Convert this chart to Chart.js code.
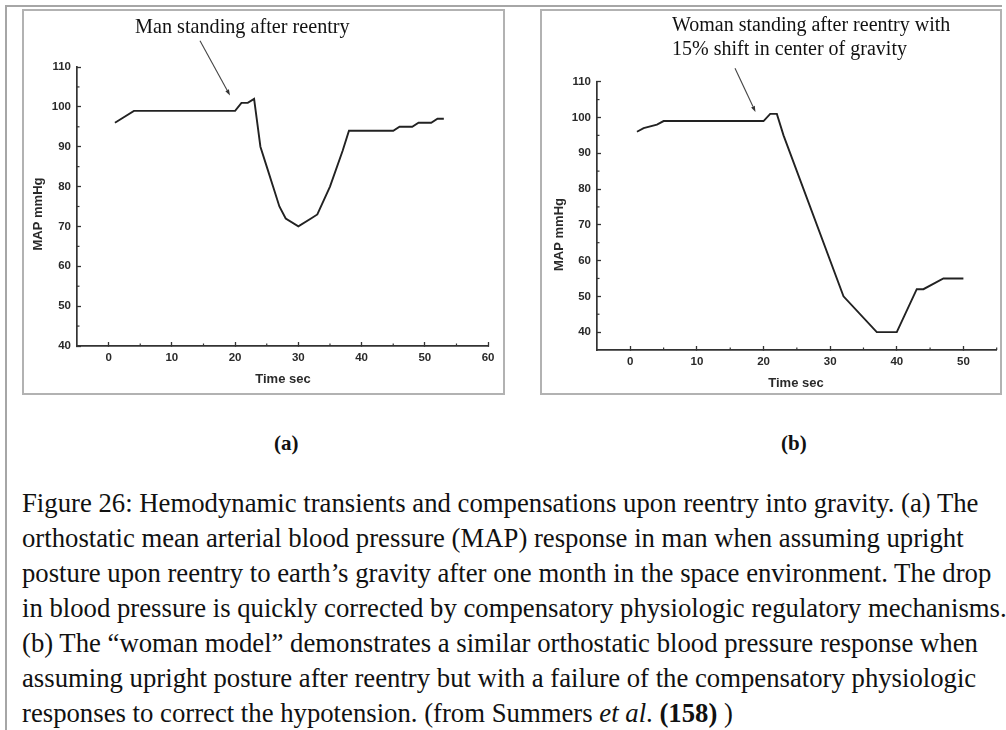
<!DOCTYPE html>
<html><head><meta charset="utf-8">
<script src="https://cdn.jsdelivr.net/npm/chart.js@4.4.1/dist/chart.umd.min.js"></script>
<style>
html,body{margin:0;padding:0;background:#fff;}
#page{position:relative;width:1006px;height:730px;overflow:hidden;background:#fff;}
.abs{position:absolute;}
.frame{position:absolute;background:#a6a6a6;}
.box{position:absolute;box-sizing:border-box;border:2px solid #b2b2b2;}
.serif{position:absolute;font-family:"Liberation Serif","Times New Roman",serif;color:#111;white-space:nowrap;line-height:1;}
</style></head><body>
<div id="page">
 <div class="frame" style="left:5px;top:5px;width:997px;height:2px"></div>
 <div class="frame" style="left:5px;top:5px;width:2px;height:725px"></div>
 <div class="box" style="left:22px;top:9px;width:483px;height:386px"></div>
 <div class="box" style="left:540px;top:9px;width:462px;height:386px"></div>
 <canvas id="cA" class="abs" style="left:24px;top:11px" width="479" height="382"></canvas>
 <canvas id="cB" class="abs" style="left:542px;top:11px" width="458" height="382"></canvas>
 <div class="serif" style="left:135px;top:16.3px;font-size:20.2px">Man standing after reentry</div>
 <div class="serif" style="left:672px;top:13.3px;font-size:20px;line-height:23.3px">Woman standing after reentry with<br>15% shift in center of gravity</div>
 <div class="serif" style="left:274px;top:433.4px;font-size:21px;font-weight:bold">(a)</div>
 <div class="serif" style="left:781px;top:433.4px;font-size:21px;font-weight:bold">(b)</div>
 <div id="cap"></div>
 <svg id="arrows" class="abs" style="left:0;top:0" width="1006" height="730"></svg>
</div>
<script>
// ---- data ----
const manTime = [1, 4, 20, 21, 22, 23, 24, 25, 26, 27, 28, 30, 32, 33, 35, 37, 38, 45, 46, 48, 49, 51, 52, 53];
const manMAP  = [96, 99, 99, 101, 101, 102, 90, 85, 80, 75, 72, 70, 72, 73, 80, 89, 94, 94, 95, 95, 96, 96, 97, 97];
const womanTime = [1, 2, 4, 5, 20, 21, 22, 23, 32, 37, 40, 43, 44, 47, 50];
const womanMAP  = [96, 97, 98, 99, 99, 101, 101, 95, 50, 40, 40, 52, 52, 55, 55];
const xTicksA = [0, 10, 20, 30, 40, 50, 60];
const xMinorA = [5, 15, 25, 35, 45, 55];
const xTicksB = [0, 10, 20, 30, 40, 50];
const xMinorB = [5, 15, 25, 35, 45, 55];
const yTicks = [40, 50, 60, 70, 80, 90, 100, 110];
const yMinor = [45, 55, 65, 75, 85, 95, 105];
const captionLines = [
  "Figure 26: Hemodynamic transients and compensations upon reentry into gravity. (a) The",
  "orthostatic mean arterial blood pressure (MAP) response in man when assuming upright",
  "posture upon reentry to earth\u2019s gravity after one month in the space environment. The drop",
  "in blood pressure is quickly corrected by compensatory physiologic regulatory mechanisms.",
  "(b) The \u201cwoman model\u201d demonstrates a similar orthostatic blood pressure response when",
  "assuming upright posture after reentry but with a failure of the compensatory physiologic",
  "responses to correct the hypotension. (from Summers <i>et al</i>. <b>(158)</b> )"
];

const AXIS = '#333';
const deco = {
  id: 'deco',
  afterDraw(chart, args, o) {
    const ctx = chart.ctx, x = chart.scales.x, y = chart.scales.y;
    ctx.save();
    ctx.strokeStyle = AXIS; ctx.lineWidth = 1.2;
    o.minorX.forEach(v => { const p = x.getPixelForValue(v); ctx.beginPath(); ctx.moveTo(p, y.bottom); ctx.lineTo(p, y.bottom - 2.5); ctx.stroke(); });
    o.minorY.forEach(v => { const p = y.getPixelForValue(v); ctx.beginPath(); ctx.moveTo(x.left, p); ctx.lineTo(x.left + 2.5, p); ctx.stroke(); });
    ctx.fillStyle = '#2a2a2a';
    ctx.font = 'bold 13px "Liberation Sans", Arial, sans-serif';
    ctx.textAlign = 'center'; ctx.textBaseline = 'middle';
    ctx.fillText(o.xTitle, o.xTitlePos[0], o.xTitlePos[1]);
    ctx.translate(o.yTitlePos[0], o.yTitlePos[1]); ctx.rotate(-Math.PI / 2);
    ctx.fillText(o.yTitle, 0, 0);
    ctx.restore();
  }
};

function makeChart(id, xs, ys, cfg) {
  const tickFont = { family: '"Liberation Sans", Arial, sans-serif', size: 11.5, weight: 'bold' };
  return new Chart(document.getElementById(id), {
    type: 'line',
    data: { datasets: [{ data: xs.map((t, i) => ({ x: t, y: ys[i] })), borderColor: '#222', borderWidth: 1.9, pointRadius: 0, tension: 0, fill: false }] },
    options: {
      responsive: false, animation: false, devicePixelRatio: 1,
      layout: { padding: { top: cfg.top, right: cfg.right, left: 0, bottom: 0 } },
      plugins: { legend: { display: false }, tooltip: { enabled: false },
        deco: { minorX: cfg.minorX, minorY: yMinor, xTitle: 'Time sec', yTitle: 'MAP mmHg', xTitlePos: cfg.xTitlePos, yTitlePos: cfg.yTitlePos } },
      scales: {
        x: { type: 'linear', min: -5, max: cfg.xMax,
          afterBuildTicks: s => { s.ticks = cfg.xTicks.map(v => ({ value: v })); },
          afterFit: s => { s.height = cfg.xH; },
          grid: { drawOnChartArea: false, drawTicks: true, tickLength: -4, color: AXIS, tickColor: AXIS, tickWidth: 1.3 },
          border: { display: true, color: AXIS, width: 1.7 },
          ticks: { padding: 8.5, font: tickFont, color: '#2a2a2a', maxRotation: 0, autoSkip: false } },
        y: { type: 'linear', min: cfg.yMin, max: 110,
          afterBuildTicks: s => { s.ticks = yTicks.map(v => ({ value: v })); },
          afterFit: s => { s.width = cfg.yW; },
          grid: { drawOnChartArea: false, drawTicks: true, tickLength: -4, color: AXIS, tickColor: AXIS, tickWidth: 1.3 },
          border: { display: true, color: AXIS, width: 1.7 },
          ticks: { padding: 10, font: tickFont, color: '#2a2a2a', autoSkip: false } }
      }
    },
    plugins: [deco]
  });
}

makeChart('cA', manTime, manMAP, { top: 56, right: 11.5, xH: 47, yW: 53, xMax: 60, yMin: 40, xTicks: xTicksA, minorX: xMinorA, xTitlePos: [259, 368], yTitlePos: [14, 203] });
makeChart('cB', womanTime, womanMAP, { top: 70.7, right: 3.3, xH: 43, yW: 55, xMax: 55, yMin: 35, xTicks: xTicksB, minorX: xMinorB, xTitlePos: [254, 372], yTitlePos: [17, 223.5] });

// caption
(function () {
  const m = document.createElement('canvas').getContext('2d');
  m.font = '100px "Liberation Serif"';
  const f3 = 100 * 974 / m.measureText(captionLines[2]).width;
  const f4 = 100 * 981 / m.measureText(captionLines[3]).width;
  const F = (f3 + f4) / 2;
  const cap = document.getElementById('cap');
  captionLines.forEach((t, i) => {
    const d = document.createElement('div');
    d.className = 'serif';
    d.style.fontSize = F + 'px';
    d.style.left = '22px';
    d.style.top = (512 + 35 * i - 0.8375 * F) + 'px';
    d.innerHTML = t;
    cap.appendChild(d);
  });
})();

// arrows
(function () {
  const svg = document.getElementById('arrows');
  function arrow(x1, y1, x2, y2) {
    const dx = x2 - x1, dy = y2 - y1, L = Math.hypot(dx, dy), ux = dx / L, uy = dy / L;
    const bx = x2 - ux * 6, by = y2 - uy * 6, px = -uy * 2, py = ux * 2;
    svg.insertAdjacentHTML('beforeend',
      `<line x1="${x1}" y1="${y1}" x2="${bx}" y2="${by}" stroke="#444" stroke-width="1.1"/>` +
      `<polygon points="${x2},${y2} ${bx + px},${by + py} ${bx - px},${by - py}" fill="#333"/>`);
  }
  arrow(200, 40.7, 230, 95.5);
  arrow(735, 68.3, 755.5, 112);
})();
</script>
</body></html>
